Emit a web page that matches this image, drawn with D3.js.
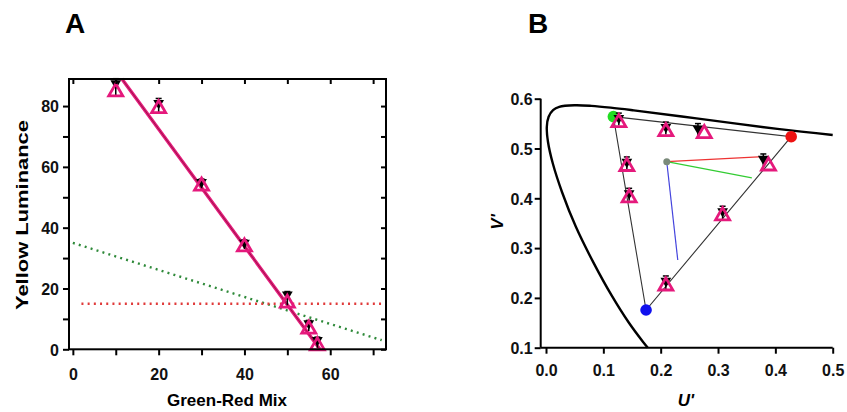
<!DOCTYPE html>
<html>
<head>
<meta charset="utf-8">
<script src="https://cdn.jsdelivr.net/npm/d3@7"></script>
<style>
	body { margin: 0; background: #fff; }
	svg { display: block; font-family: "Liberation Sans", Arial, sans-serif; }
	.tick text { font-size: 16px; font-weight: bold; fill: #111; }
	.domain { display: none; }
</style>
</head>
<body>
<svg id="chart" width="847" height="412"></svg>
<script>
// ---- Panel A data
const mixX = [10, 20, 30, 40, 50, 55, 57];
const lumUp = [85, 79.5, 54, 34, 15.5, 7, 1.5];
const lumDown = [87.5, 81, 55, 35, 18, 8.5, 3];
const lumErr = [1.5, 1.5, 1, 1, 1, 1, 1];
const fitX = [11.4, 57.6];
const fitY = [89, 0];
const greenLineX = [0, 72];
const greenLineY = [35, 3];
const redLineX = [2, 73];
const redLineY = [15, 15];
const ticksAX = [0, 10, 20, 30, 40, 50, 60, 70];
const ticksAY = [0, 10, 20, 30, 40, 50, 60, 70, 80];

// ---- Panel B data
const locusU = [0.1775, 0.169, 0.144, 0.1147, 0.0828, 0.0521, 0.0282, 0.0119, 0.0035, 0.0014, 0.0046, 0.0123, 0.0231, 0.0501, 0.0792, 0.1127, 0.1531, 0.2623, 0.4035, 0.5];
const locusV = [0.1, 0.112, 0.151, 0.2044, 0.2708, 0.3427, 0.4117, 0.4698, 0.513, 0.5432, 0.5638, 0.577, 0.5837, 0.5868, 0.5856, 0.5821, 0.5766, 0.5604, 0.5393, 0.527];
const primaryNames = ["green", "red", "blue"];
const primaryU = [0.1175, 0.4276, 0.1745];
const primaryV = [0.564, 0.5237, 0.1757];
const primaryColor = ["#22dd22", "#ee1111", "#1111ee"];
const whiteU = 0.2106, whiteV = 0.4735;
const rayU = [0.379, 0.359, 0.2298];
const rayV = [0.4835, 0.441, 0.276];
const rayColor = ["#e33", "#3c3", "#44d"];
const ptUpU = [0.127, 0.209, 0.276, 0.141, 0.145, 0.308, 0.209, 0.388];
const ptUpV = [0.554, 0.536, 0.532, 0.466, 0.403, 0.367, 0.226, 0.467];
const ptDownU = [0.127, 0.209, 0.265, 0.141, 0.145, 0.308, 0.209, 0.379];
const ptDownV = [0.561, 0.543, 0.540, 0.473, 0.410, 0.374, 0.234, 0.479];
const ticksBX = [0, 0.1, 0.2, 0.3, 0.4, 0.5];
const ticksBY = [0.1, 0.2, 0.3, 0.4, 0.5, 0.6];

const pink = "#e5197c";
const svg = d3.select("#chart");

const upTri = d3.symbol().type(d3.symbolTriangle).size(85);
const downTri = d3.symbol().type(d3.symbolTriangle).size(50);

function drawMarkers(g, x, y, upXs, upYs, downXs, downYs, errs) {
	// error bars
	g.selectAll(".err").data(downXs).enter().append("g").each(function(d, i) {
		const e = errs ? errs[i] : null;
		const sel = d3.select(this);
		const cx = x(d);
		const y1 = e ? y(downYs[i] + e) : y(downYs[i]) - 5;
		const y2 = e ? y(upYs[i] - e) : y(upYs[i]) + 4;
		sel.append("line").attr("x1", cx).attr("x2", cx).attr("y1", y1).attr("y2", y2)
			.attr("stroke", "#000").attr("stroke-width", 1.5);
		sel.append("line").attr("x1", cx - 3).attr("x2", cx + 3).attr("y1", y1).attr("y2", y1)
			.attr("stroke", "#000").attr("stroke-width", 1.5);
	});
	g.selectAll(".down").data(downXs).enter().append("path")
		.attr("d", downTri)
		.attr("transform", (d, i) => `translate(${x(d)},${y(downYs[i])}) rotate(180)`)
		.attr("fill", "#000");
	g.selectAll(".up").data(upXs).enter().append("path")
		.attr("d", upTri)
		.attr("transform", (d, i) => `translate(${x(d)},${y(upYs[i]) + 1})`)
		.attr("fill", "none")
		.attr("stroke", pink)
		.attr("stroke-width", 2.8);
}

// ================= Panel A
const xA = d3.scaleLinear().domain([-0.9, 73]).range([69, 386]);
const yA = d3.scaleLinear().domain([0, 88.9]).range([349.3, 79]);
const gA = svg.append("g");

gA.append("text").attr("x", 65).attr("y", 33).text("A")
	.attr("font-size", 28).attr("font-weight", "bold");

// dotted reference lines
gA.append("line")
	.attr("x1", xA(greenLineX[0])).attr("y1", yA(greenLineY[0]))
	.attr("x2", xA(greenLineX[1])).attr("y2", yA(greenLineY[1]))
	.attr("stroke", "#2f8a3a").attr("stroke-width", 2.4)
	.attr("stroke-dasharray", "2,4.2");
gA.append("line")
	.attr("x1", xA(redLineX[0])).attr("y1", yA(redLineY[0]))
	.attr("x2", xA(redLineX[1])).attr("y2", yA(redLineY[1]))
	.attr("stroke", "#e03a3a").attr("stroke-width", 2.4)
	.attr("stroke-dasharray", "2,4.2");

// fitted lines
const fitLine = d3.line().x(d => xA(d[0])).y(d => yA(d[1]));
const fitPts = fitX.map((d, i) => [d, fitY[i]]);
gA.append("path").attr("d", fitLine(fitPts)).attr("stroke", pink).attr("stroke-width", 3.4).attr("fill", "none");
gA.append("path").attr("d", fitLine(fitPts)).attr("stroke", "#9a1848").attr("stroke-width", 1).attr("fill", "none");

drawMarkers(gA.append("g"), xA, yA, mixX, lumUp, mixX, lumDown, lumErr);

// frame
gA.append("rect").attr("x", 69).attr("y", 79).attr("width", 317).attr("height", 270.3)
	.attr("fill", "none").attr("stroke", "#000").attr("stroke-width", 2);

const axA_bottom = gA.append("g").attr("transform", "translate(0,349.3)")
	.call(d3.axisBottom(xA).tickValues(ticksAX).tickSize(6).tickPadding(8)
		.tickFormat(d => d % 20 === 0 ? d : ""));
const axA_left = gA.append("g").attr("transform", "translate(69,0)")
	.call(d3.axisLeft(yA).tickValues(ticksAY).tickSize(6).tickPadding(4)
		.tickFormat(d => d % 20 === 0 ? d : ""));
gA.append("g").attr("transform", "translate(0,79)")
	.call(d3.axisBottom(xA).tickValues(ticksAX).tickSize(5).tickFormat(""));
gA.append("g").attr("transform", "translate(386,0)")
	.call(d3.axisRight(yA).tickValues(ticksAY).tickSize(-5).tickFormat(""));
gA.selectAll(".tick line").attr("stroke", "#000").attr("stroke-width", 2);
gA.selectAll(".tick text").attr("dy", null);
axA_bottom.selectAll(".tick text").attr("y", 31);
axA_left.selectAll(".tick text").attr("dy", "0.36em");

gA.append("text").attr("x", 227).attr("y", 406).attr("text-anchor", "middle")
	.attr("font-size", 17).attr("font-weight", "bold").text("Green-Red Mix");
gA.append("text").attr("transform", "translate(28,215) rotate(-90)")
	.attr("text-anchor", "middle").attr("font-size", 17).attr("font-weight", "bold")
	.attr("textLength", 190).attr("lengthAdjust", "spacingAndGlyphs")
	.text("Yellow Luminance");

// ================= Panel B
const xB = d3.scaleLinear().domain([0, 0.5]).range([546, 832.7]);
const yB = d3.scaleLinear().domain([0.1, 0.6]).range([347.7, 98.7]);
const gB = svg.append("g");

gB.append("text").attr("x", 528).attr("y", 33).text("B")
	.attr("font-size", 28).attr("font-weight", "bold");

// spectral locus
const locus = d3.line().x(d => xB(d[0])).y(d => yB(d[1])).curve(d3.curveCatmullRom);
gB.append("path").attr("d", locus(locusU.map((d, i) => [d, locusV[i]])))
	.attr("fill", "none").attr("stroke", "#000").attr("stroke-width", 2.4);

// gamut triangle
const gamut = [0, 1, 2, 0].map(i => [primaryU[i], primaryV[i]]);
gB.append("path").attr("d", d3.line().x(d => xB(d[0])).y(d => yB(d[1]))(gamut))
	.attr("fill", "none").attr("stroke", "#333").attr("stroke-width", 1.1);

// rays from white point
gB.selectAll(".ray").data(rayU).enter().append("line")
	.attr("x1", xB(whiteU)).attr("y1", yB(whiteV))
	.attr("x2", d => xB(d)).attr("y2", (d, i) => yB(rayV[i]))
	.attr("stroke", (d, i) => rayColor[i]).attr("stroke-width", 1.2);

gB.append("circle").attr("cx", xB(whiteU)).attr("cy", yB(whiteV)).attr("r", 3.5).attr("fill", "#7a8a7a");

gB.selectAll(".prim").data(primaryNames).enter().append("circle")
	.attr("cx", (d, i) => xB(primaryU[i])).attr("cy", (d, i) => yB(primaryV[i]))
	.attr("r", 5.8).attr("fill", (d, i) => primaryColor[i]);

drawMarkers(gB.append("g"), xB, yB, ptUpU, ptUpV, ptDownU, ptDownV, null);

// axes
const axB_bottom = gB.append("g").attr("transform", "translate(0,347.7)")
	.call(d3.axisBottom(xB).tickValues(ticksBX).tickSize(6).tickPadding(6).tickFormat(d3.format(".1f")));
const axB_left = gB.append("g").attr("transform", "translate(540.7,0)")
	.call(d3.axisLeft(yB).tickValues(ticksBY).tickSize(6).tickPadding(2).tickFormat(d3.format(".1f")));
gB.append("line").attr("x1", 540.7).attr("x2", 832.7).attr("y1", 347.7).attr("y2", 347.7)
	.attr("stroke", "#000").attr("stroke-width", 2);
gB.append("line").attr("x1", 540.7).attr("x2", 540.7).attr("y1", 98.7).attr("y2", 347.7)
	.attr("stroke", "#000").attr("stroke-width", 2);
gB.selectAll(".tick line").attr("stroke", "#000").attr("stroke-width", 2);
axB_bottom.selectAll(".tick text").attr("dy", null).attr("y", 28);
axB_left.selectAll(".tick text").attr("dy", "0.36em");

gB.append("text").attr("x", 686).attr("y", 406).attr("text-anchor", "middle")
	.attr("font-size", 17).attr("font-weight", "bold").attr("font-style", "italic").text("U'");
gB.append("text").attr("transform", "translate(503,222) rotate(-90)")
	.attr("text-anchor", "middle").attr("font-size", 17).attr("font-weight", "bold")
	.attr("font-style", "italic").text("V'");
</script>
</body>
</html>
